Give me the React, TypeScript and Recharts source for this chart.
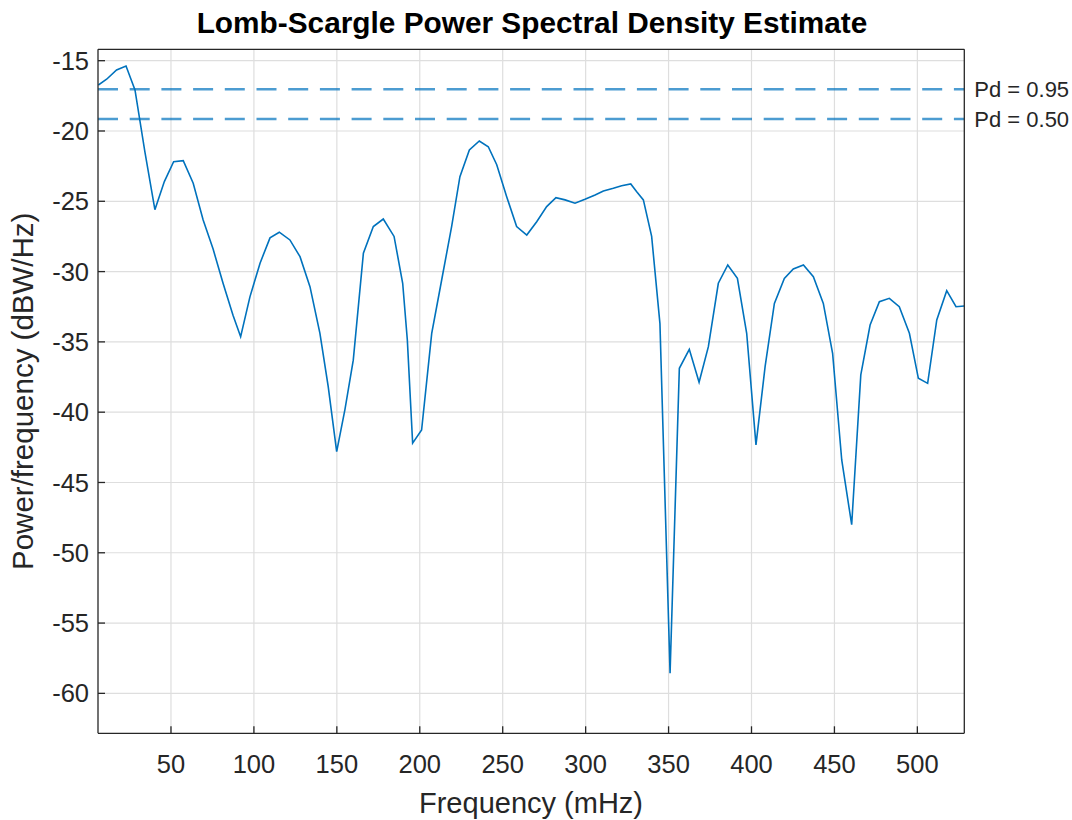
import { LineChart, Line, XAxis, YAxis, CartesianGrid, ReferenceLine, Label } from 'recharts';

// frequency (mHz) and power/frequency (dBW/Hz)
const freqMHz = [
  6.2, 11.2, 17.2, 22.9, 28.3, 34.3, 40.3, 46.0, 51.6, 57.4,
  63.4, 69.4, 75.4, 81.4, 87.4, 92.0, 97.6, 103.7, 109.7, 115.3,
  121.7, 127.8, 133.8, 139.8, 144.8, 149.9, 154.9, 159.9, 166.0, 172.0,
  178.0, 184.5, 189.7, 192.5, 195.7, 201.1, 207.2, 213.2, 219.2, 224.2,
  229.9, 235.9, 241.3, 246.4, 252.4, 258.4, 264.5, 270.5, 276.5, 282.1,
  287.6, 293.6, 299.6, 305.7, 310.7, 316.7, 321.7, 327.2, 330.8, 334.8,
  339.8, 344.8, 350.9, 356.5, 362.5, 368.4, 374.0, 380.0, 385.7, 391.5,
  397.1, 402.7, 408.2, 413.8, 419.8, 425.2, 431.3, 437.3, 443.3, 448.9,
  454.4, 460.4, 465.9, 471.5, 477.1, 483.1, 489.1, 495.2, 500.6, 506.2,
  511.7, 517.7, 523.3, 528.3,
];
const powerDb = [
  -16.73, -16.32, -15.66, -15.38, -17.08, -21.5, -25.6, -23.6, -22.18, -22.11,
  -23.72, -26.33, -28.4, -30.83, -33.1, -34.63, -31.8, -29.4, -27.6, -27.2,
  -27.75, -28.94, -31.07, -34.39, -38.19, -42.8, -39.8, -36.3, -28.7, -26.8,
  -26.26, -27.5, -30.83, -34.87, -42.2, -41.27, -34.39, -30.6, -26.8, -23.25,
  -21.35, -20.71, -21.12, -22.4, -24.67, -26.8, -27.4, -26.45, -25.38, -24.74,
  -24.9, -25.14, -24.86, -24.55, -24.27, -24.08, -23.89, -23.77, -24.32, -24.9,
  -27.5, -33.7, -58.57, -36.88, -35.53, -37.87, -35.34, -30.83, -29.53, -30.48,
  -34.39, -42.33, -36.76, -32.26, -30.48, -29.81, -29.53, -30.36, -32.26, -35.81,
  -43.4, -48.0, -37.35, -33.8, -32.14, -31.9, -32.5, -34.39, -37.59, -37.95,
  -33.44, -31.36, -32.5, -32.45,
];

const xTicks = [50, 100, 150, 200, 250, 300, 350, 400, 450, 500];
const yTicks = [-60, -55, -50, -45, -40, -35, -30, -25, -20, -15];

const pdLabels = ['Pd = 0.95', 'Pd = 0.50'];
const pdLevels = [-17.03, -19.15];

const xDomain = [6, 528.3];
const yDomain = [-62.84, -14.19];

const data = freqMHz.map((f, i) => ({ f, p: powerDb[i] }));

const FONT = '"Liberation Sans", Arial, Helvetica, sans-serif';
const INK = '#262626';
const BLUE = '#0072BD';

export default function App() {
  const tickStyle = { fontSize: 25.5, fill: INK, fontFamily: FONT };
  const tickLineStyle = { stroke: INK, strokeWidth: 1.3 };
  return (
    <div style={{ position: 'absolute', left: 0, top: 0, width: 1072, height: 820, background: '#fff' }}>
      <LineChart
        width={1072}
        height={820}
        data={data}
        margin={{ top: 48.3, right: 106.7, bottom: 0, left: 18 }}
        style={{ fontFamily: FONT }}
      >
        <CartesianGrid
          xAxisId="bottom"
          yAxisId="left"
          stroke="#dedede"
          strokeWidth={1.2}
          horizontalValues={yTicks}
          verticalValues={xTicks}
        />
        <XAxis
          xAxisId="bottom"
          dataKey="f"
          type="number"
          domain={xDomain}
          allowDataOverflow
          ticks={xTicks}
          height={86.7}
          tickSize={-7}
          tickMargin={28.7}
          tick={tickStyle}
          stroke={INK}
          strokeWidth={1.3}
          tickLine={tickLineStyle}
        >
          <Label
            content={() => (
              <text x={531} y={813} textAnchor="middle" fontSize={29} fill={INK} fontFamily={FONT}>
                Frequency (mHz)
              </text>
            )}
          />
        </XAxis>
        <XAxis
          xAxisId="top"
          orientation="top"
          dataKey="f"
          type="number"
          domain={xDomain}
          allowDataOverflow
          ticks={xTicks}
          height={1}
          tickSize={-7}
          tick={false}
          stroke={INK}
          strokeWidth={1.3}
          tickLine={tickLineStyle}
        >
          <Label
            content={() => (
              <text x={532} y={33} textAnchor="middle" fontSize={29.8} fontWeight="bold" fill="#000" fontFamily={FONT}>
                Lomb-Scargle Power Spectral Density Estimate
              </text>
            )}
          />
        </XAxis>
        <YAxis
          yAxisId="left"
          type="number"
          domain={yDomain}
          allowDataOverflow
          ticks={yTicks}
          width={80}
          tickSize={-7}
          tickMargin={16}
          tick={tickStyle}
          stroke={INK}
          strokeWidth={1.3}
          tickLine={tickLineStyle}
        >
          <Label
            content={() => (
              <text
                x={33}
                y={391.3}
                textAnchor="middle"
                fontSize={29.5}
                fill={INK}
                fontFamily={FONT}
                transform="rotate(-90, 33, 391.3)"
              >
                Power/frequency (dBW/Hz)
              </text>
            )}
          />
        </YAxis>
        <YAxis
          yAxisId="right"
          orientation="right"
          type="number"
          domain={yDomain}
          allowDataOverflow
          ticks={yTicks}
          width={1}
          tickSize={-7}
          tick={false}
          stroke={INK}
          strokeWidth={1.3}
          tickLine={tickLineStyle}
        />
        {pdLevels.map((v, i) => (
          <ReferenceLine
            key={pdLabels[i]}
            xAxisId="bottom"
            yAxisId="left"
            y={v}
            stroke={BLUE}
            strokeOpacity={0.7}
            strokeWidth={2.4}
            strokeDasharray="20 11.7"
            label={{ value: pdLabels[i], position: 'right', offset: 10, fill: INK, fontSize: 22, fontFamily: FONT }}
          />
        ))}
        <Line
          xAxisId="bottom"
          yAxisId="left"
          type="linear"
          dataKey="p"
          stroke={BLUE}
          strokeWidth={1.6}
          dot={false}
          isAnimationActive={false}
        />
      </LineChart>
    </div>
  );
}
